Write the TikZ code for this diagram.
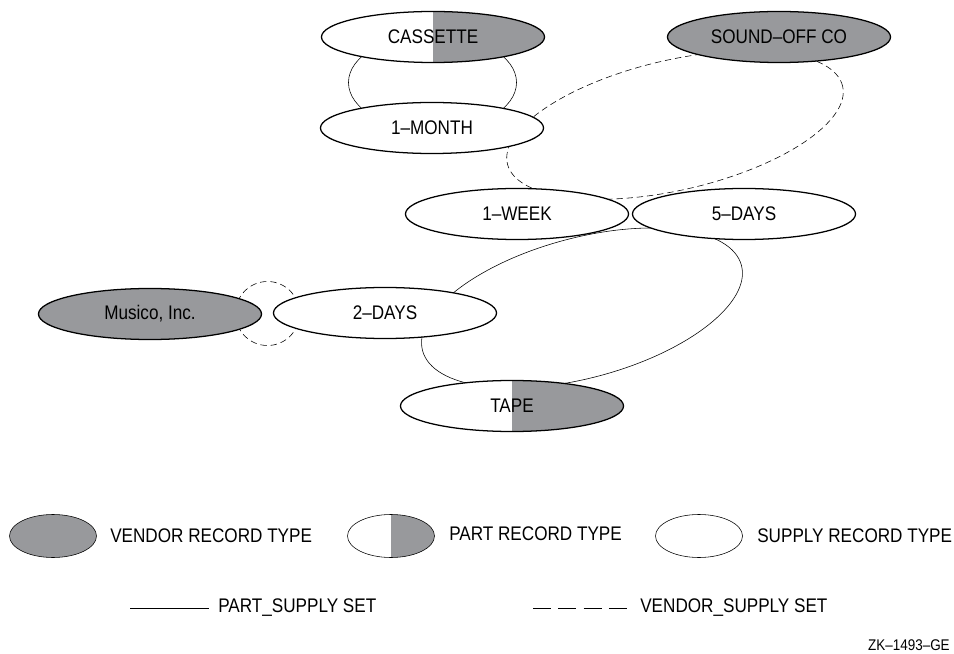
\documentclass[tikz,border=0pt]{standalone}
\usepackage{fontspec}
\setmainfont{Liberation Sans}[FakeStretch=0.87]
\usepackage{tikz}
\usetikzlibrary{shapes.geometric,backgrounds,calc}
\definecolor{vgray}{RGB}{152,153,156}

\begin{document}
\begin{tikzpicture}[x=0.025cm,y=0.025cm,line width=0.9pt,
  font=\fontsize{14pt}{16pt}\selectfont,
  rec/.style={ellipse,draw=black,inner sep=0pt,minimum width=5.575cm,minimum height=1.275cm},
  vendor/.style={rec,fill=vgray},
  supply/.style={rec,fill=white},
  part/.style={rec,fill=white,path picture={\fill[vgray] (path picture bounding box.north) rectangle (path picture bounding box.south east);}},
  small/.style={minimum width=2.175cm,minimum height=1.075cm},
  lbl/.style={anchor=west,inner sep=0pt},
  vset/.style={dash pattern=on 4.5pt off 2.8pt}]
\useasboundingbox (0,0) rectangle (954,653);

% record occurrences
\node[part] (cas) at (433,616) {CASSETTE};
\node[vendor] (snd) at (779,616) {SOUND--OFF CO};
\node[supply] (mon) at (432,525) {1--MONTH};
\node[supply] (wk) at (517,439) {1--WEEK};
\node[supply] (fd) at (744,439) {5--DAYS};
\node[vendor] (mus) at (150,339) {Musico, Inc.};
\node[supply] (td) at (385,340) {2--DAYS};
\node[part] (tape) at (512,247) {TAPE};

% set rings
\coordinate (vring) at (675,528);
\coordinate (pring) at (582,345);
\begin{pgfonlayer}{background}
\draw ($(cas)!0.5!(mon)$) ellipse [x radius=2.1cm,y radius=1.2cm];
\draw[vset] (vring) ellipse [x radius=4.3cm,y radius=1.625cm,rotate=13];
\draw (pring) ellipse [x radius=4.125cm,y radius=1.75cm,rotate=15];
\draw[vset] ($(mus)!0.5!(td)$) circle [radius=0.8cm];
\end{pgfonlayer}

% legend
\node[vendor,small] (lv) at (53,117) {};
\node[lbl] (lvt) at (110,117) {VENDOR RECORD TYPE};
\node[part,small] (lp) at (391,117) {};
\node[lbl] (lpt) at (449,119) {PART RECORD TYPE};
\node[supply,small] (ls) at (699,117) {};
\node[lbl] (lst) at (757,117) {SUPPLY RECORD TYPE};

\coordinate (ps1) at (130,45);
\coordinate (ps2) at (209,45);
\draw (ps1) -- (ps2);
\node[lbl] (pst) at (218,45) {PART\_SUPPLY SET};
\coordinate (vs1) at (533,45);
\coordinate (vs2) at (627,45);
\draw[dash pattern=on 12.8pt off 5.2pt] (vs1) -- (vs2);
\node[lbl] (vst) at (640,45) {VENDOR\_SUPPLY SET};

\node[anchor=east,inner sep=0pt,font=\fontsize{11pt}{13pt}\selectfont] (zk) at (950,8) {ZK--1493--GE};
\end{tikzpicture}
\end{document}
